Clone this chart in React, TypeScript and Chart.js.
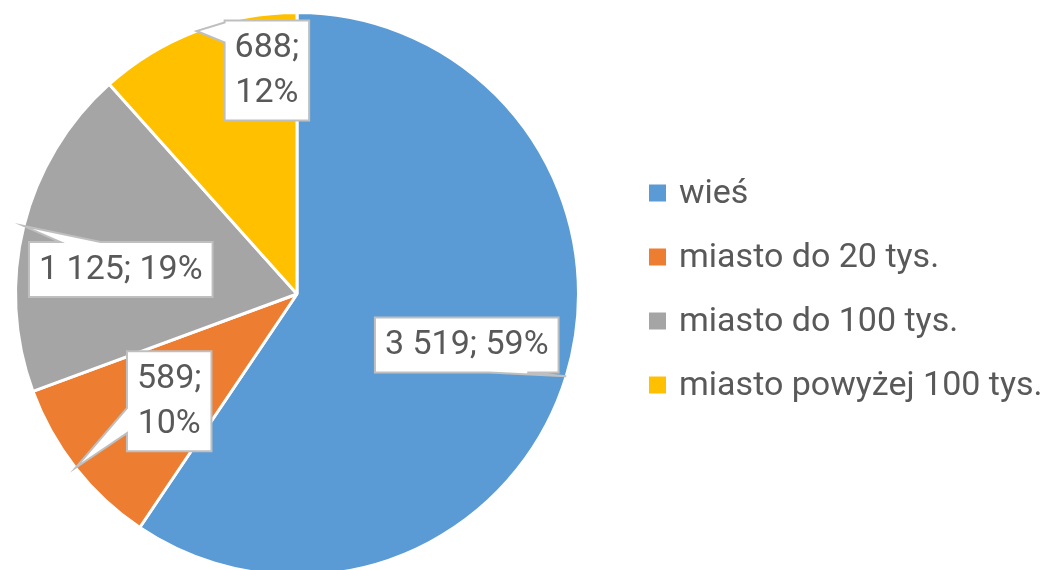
import React, { useEffect, useRef } from 'react';
import { Chart, registerables } from 'chart.js';

Chart.register(...registerables);

const categories = ['wieś', 'miasto do 20 tys.', 'miasto do 100 tys.', 'miasto powyżej 100 tys.'];
const values = [3519, 589, 1125, 688];
const colors = ['#5B9BD5', '#ED7D31', '#A5A5A5', '#FFC000'];

// label box placement (style only): centre offset in units of pie radius, callout edge & base
const labelLayouts = [
  { dx: 0.603, dy: 0.181, multiline: false, edge: 'bottom', base: [0.62, 0.83] },
  { dx: -0.454, dy: 0.381, multiline: true, edge: 'left', base: [0.57, 0.82] },
  { dx: -0.626, dy: -0.087, multiline: false, edge: 'top', base: [0.17, 0.39] },
  { dx: -0.107, dy: -0.794, multiline: true, edge: 'left', base: [0.02, 0.22] },
];

const FONT = 'Roboto, "Open Sans", sans-serif';
const TEXT_COLOR = '#595959';

function fmt(v: number): string {
  return String(v).replace(/\B(?=(\d{3})+(?!\d))/g, ' ');
}

const calloutPlugin = {
  id: 'callouts',
  afterDraw(chart: any) {
    const ctx = chart.ctx as CanvasRenderingContext2D;
    const meta = chart.getDatasetMeta(0);
    const data = chart.data.datasets[0].data as number[];
    const total = data.reduce((a, b) => a + b, 0);
    ctx.save();
    ctx.font = `34px ${FONT}`;
    ctx.textBaseline = 'middle';
    ctx.textAlign = 'center';
    meta.data.forEach((arc: any, i: number) => {
      const p = arc.getProps(['x', 'y', 'startAngle', 'endAngle', 'outerRadius'], true);
      const r = p.outerRadius;
      const mid = (p.startAngle + p.endAngle) / 2;
      const tipX = p.x + Math.cos(mid) * r;
      const tipY = p.y + Math.sin(mid) * r;
      const L = labelLayouts[i];
      const pct = Math.round((data[i] / total) * 100) + '%';
      const lines = L.multiline ? [fmt(data[i]) + ';', pct] : [fmt(data[i]) + '; ' + pct];
      const lineH = 45;
      const tw = Math.max(...lines.map((s) => ctx.measureText(s).width));
      const w = tw + 20;
      const h = lines.length * lineH + 10;
      const cx = p.x + L.dx * r;
      const cy = p.y + L.dy * r;
      const x0 = cx - w / 2, y0 = cy - h / 2, x1 = cx + w / 2, y1 = cy + h / 2;
      const [a, b] = L.base;
      ctx.beginPath();
      ctx.moveTo(x0, y0);
      if (L.edge === 'top') {
        ctx.lineTo(x0 + a * w, y0); ctx.lineTo(tipX, tipY); ctx.lineTo(x0 + b * w, y0);
      }
      ctx.lineTo(x1, y0);
      if (L.edge === 'right') {
        ctx.lineTo(x1, y0 + a * h); ctx.lineTo(tipX, tipY); ctx.lineTo(x1, y0 + b * h);
      }
      ctx.lineTo(x1, y1);
      if (L.edge === 'bottom') {
        ctx.lineTo(x0 + b * w, y1); ctx.lineTo(tipX, tipY); ctx.lineTo(x0 + a * w, y1);
      }
      ctx.lineTo(x0, y1);
      if (L.edge === 'left') {
        ctx.lineTo(x0, y0 + b * h); ctx.lineTo(tipX, tipY); ctx.lineTo(x0, y0 + a * h);
      }
      ctx.closePath();
      ctx.fillStyle = '#FFFFFF';
      ctx.fill();
      ctx.lineWidth = 2;
      ctx.strokeStyle = '#BFBFBF';
      ctx.lineJoin = 'miter';
      ctx.stroke();
      ctx.fillStyle = TEXT_COLOR;
      lines.forEach((s, k) => {
        ctx.fillText(s, cx, y0 + 5 + lineH * (k + 0.5) + 1);
      });
    });

    // legend
    ctx.font = `34px ${FONT}`;
    ctx.textAlign = 'left';
    const labels = chart.data.labels as string[];
    const bg = chart.data.datasets[0].backgroundColor as string[];
    labels.forEach((lab, i) => {
      const yc = 193 + i * 64;
      ctx.fillStyle = bg[i];
      ctx.fillRect(649, yc - 8.5, 17, 17);
      ctx.fillStyle = TEXT_COLOR;
      ctx.fillText(lab, 679, yc + 1);
    });
    ctx.restore();
  },
};

export default function App() {
  const ref = useRef<HTMLCanvasElement | null>(null);
  useEffect(() => {
    if (!ref.current) return;
    const chart = new Chart(ref.current, {
      type: 'pie',
      data: {
        labels: categories,
        datasets: [
          {
            data: values,
            backgroundColor: colors,
            borderColor: '#FFFFFF',
            borderWidth: 3,
          },
        ],
      },
      options: {
        responsive: false,
        animation: false,
        layout: { padding: { left: 14, top: 11, right: 465, bottom: 3 } },
        plugins: {
          legend: { display: false },
          tooltip: { enabled: false },
        },
      },
      plugins: [calloutPlugin],
    });
    return () => chart.destroy();
  }, []);
  return (
    <div
      style={{
        position: 'fixed',
        left: 0,
        top: 0,
        width: 1045,
        height: 570,
        overflow: 'hidden',
        background: '#FFFFFF',
      }}
    >
      <canvas ref={ref} width={1045} height={580} style={{ display: 'block' }} />
    </div>
  );
}
